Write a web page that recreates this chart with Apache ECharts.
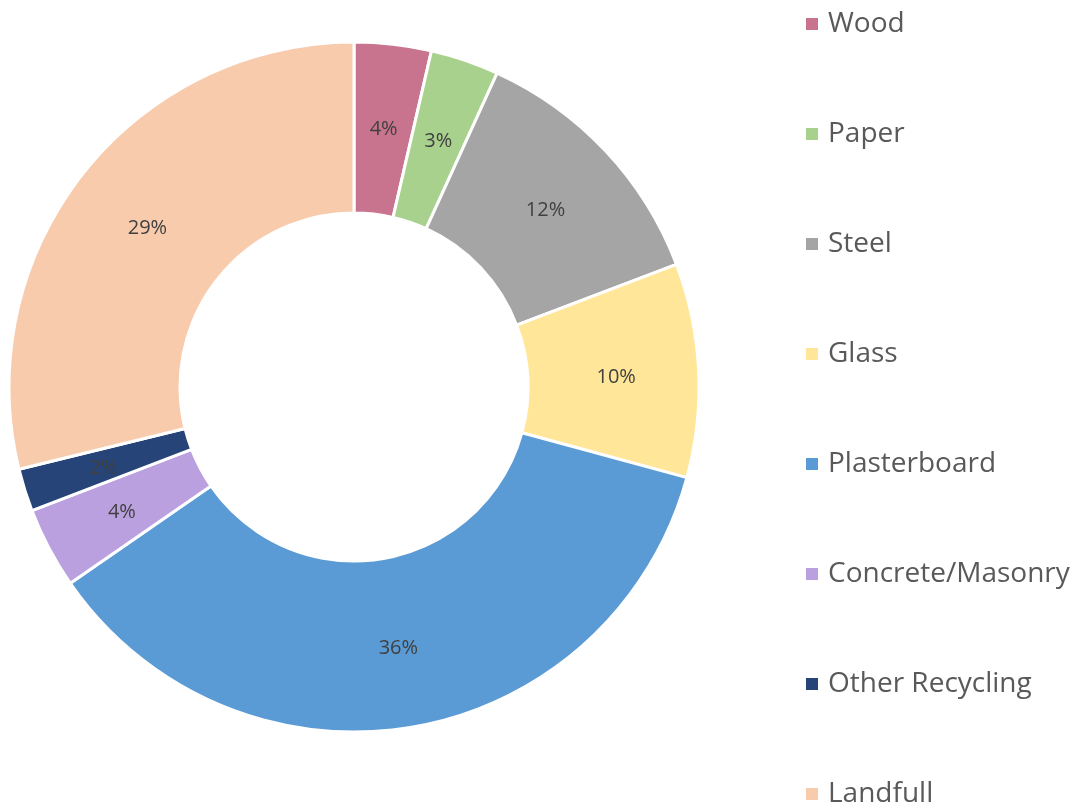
<!DOCTYPE html>
<html>
<head>
<meta charset="utf-8">
<script src="https://cdn.jsdelivr.net/npm/echarts@6/dist/echarts.min.js"></script>
<style>html,body{margin:0;padding:0;background:#fff;}#c{width:1081px;height:805px;}</style>
</head>
<body>
<div id="c"></div>
<script>
const categories = ['Wood','Paper','Steel','Glass','Plasterboard','Concrete/Masonry','Other Recycling','Landfull'];
const values = [3.6, 3.2, 12.4, 10.0, 36.1, 3.8, 2.0, 28.8];
const colors = ['#C9748F','#A9D18E','#A5A5A5','#FFE699','#5B9BD5','#BBA0DF','#264478','#F8CBAD'];

const chart = echarts.init(document.getElementById('c'), null, {renderer:'canvas'});
chart.setOption({
  animation: false,
  color: colors,
  legend: {
    orient: 'vertical',
    left: 804,
    top: 10,
    height: 1000,
    padding: 0,
    icon: 'rect',
    itemWidth: 14,
    itemHeight: 14,
    itemGap: 82,
    textStyle: { fontFamily: 'Open Sans', fontSize: 28, color: '#595959', lineHeight: 28, padding: [0,0,0,4] },
    data: categories
  },
  series: [{
    type: 'pie',
    center: [354, 387],
    radius: [174, 345],
    startAngle: 90,
    clockwise: true,
    avoidLabelOverlap: false,
    itemStyle: { borderColor: '#fff', borderWidth: 3 },
    label: {
      show: true,
      position: 'inside',
      fontFamily: 'Open Sans',
      fontSize: 20,
      color: '#404040',
      offset: [0, 3],
      formatter: p => Math.round(p.percent) + '%'
    },
    labelLine: { show: false },
    emphasis: { disabled: true },
    data: categories.map((n, i) => ({ name: n, value: values[i] }))
  }]
});
</script>
</body>
</html>
